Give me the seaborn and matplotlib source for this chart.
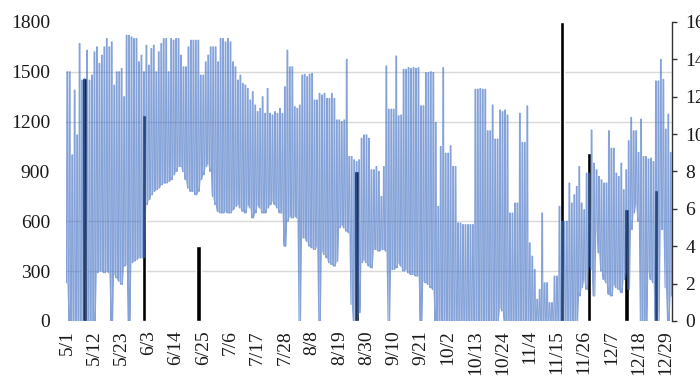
import numpy as np
import pandas as pd
import matplotlib
matplotlib.use("Agg")
import matplotlib.pyplot as plt
from matplotlib.ticker import MultipleLocator
import seaborn as sns

# Daily maximum of the hourly series (left axis), 1 May .. 31 Dec
daily_high = [
    1500, 1500, 1000, 1390, 1120, 1670, 1450, 1460, 1630, 1450,
    1480, 1620, 1650, 1550, 1600, 1650, 1700, 1650, 1680, 1420,
    1500, 1500, 1520, 1350, 1720, 1720, 1710, 1700, 1700, 1560,
    1600, 1500, 1660, 1540, 1640, 1660, 1500, 1620, 1670, 1700,
    1700, 1500, 1700, 1690, 1700, 1700, 1600, 1530, 1530, 1650,
    1690, 1690, 1690, 1690, 1480, 1480, 1560, 1600, 1650, 1650,
    1650, 1560, 1700, 1700, 1680, 1700, 1680, 1560, 1530, 1450,
    1480, 1430, 1420, 1400, 1330, 1380, 1300, 1260, 1280, 1350,
    1250, 1400, 1250, 1240, 1260, 1250, 1280, 1250, 1410, 1630,
    1530, 1530, 1290, 1280, 1300, 1480, 1485, 1470, 1485, 1490,
    1330, 1330, 1370, 1360, 1370, 1340, 1340, 1370, 1340, 1210,
    1210, 1200, 1210, 1575, 990, 990, 970, 960, 970, 1100,
    1120, 1120, 1100, 910, 910, 930, 900, 750, 930, 1535,
    1275, 1275, 1275, 1595, 1235, 1240, 1515, 1515, 1525, 1520,
    1525, 1520, 1525, 1295, 1295, 1495, 1495, 1500, 1495, 1195,
    690, 1050, 1525, 1010, 1010, 1055, 930, 930, 590, 590,
    580, 580, 580, 580, 580, 1395, 1395, 1400, 1395, 1395,
    1145, 1145, 1300, 1095, 1095, 1270, 1260, 1270, 1240, 650,
    650, 710, 710, 1250, 1075, 1075, 1295, 470, 390, 310,
    130, 190, 650, 230, 230, 110, 110, 270, 270, 690,
    600, 600, 600, 830, 710, 760, 810, 930, 710, 670,
    890, 890, 1150, 950, 910, 870, 850, 830, 830, 1145,
    1040, 1040, 890, 870, 950, 790, 910, 1085, 1225, 1145,
    1145, 1015, 1215, 990, 990, 975, 980, 960, 1445, 1445,
    1575, 1455, 1155, 1245, 1015,
]

# Daily minimum of the hourly series (left axis)
daily_low = [
    230, 0, 0, 0, 0, 0, 0, 0, 0, 0,
    0, 0, 290, 300, 300, 290, 300, 290, 0, 280,
    260, 240, 220, 330, 340, 0, 350, 360, 370, 380,
    380, 380, 700, 730, 760, 780, 790, 800, 820, 830,
    830, 840, 850, 880, 900, 930, 930, 900, 850, 800,
    780, 780, 760, 780, 850, 880, 930, 950, 900, 750,
    700, 660, 650, 650, 660, 650, 650, 670, 690, 700,
    680, 660, 650, 700, 680, 620, 650, 700, 680, 650,
    650, 680, 700, 720, 700, 680, 650, 650, 450, 600,
    630, 620, 630, 620, 0, 500, 500, 480, 450, 440,
    430, 450, 0, 420, 400, 380, 350, 340, 330, 360,
    560, 580, 560, 540, 530, 100, 0, 0, 50, 350,
    370, 350, 330, 320, 430, 430, 420, 430, 430, 420,
    0, 310, 310, 320, 350, 330, 300, 310, 290, 280,
    280, 270, 270, 0, 240, 230, 220, 200, 190, 0,
    0, 0, 0, 0, 0, 0, 0, 0, 0, 0,
    0, 0, 0, 0, 0, 0, 0, 0, 0, 0,
    0, 0, 0, 0, 0, 80, 60, 0, 0, 0,
    0, 0, 0, 0, 0, 0, 0, 0, 0, 0,
    0, 0, 0, 0, 0, 0, 0, 0, 0, 0,
    0, 0, 0, 0, 0, 0, 0, 150, 200, 250,
    190, 330, 310, 150, 550, 410, 300, 250, 230, 160,
    150, 220, 200, 190, 170, 250, 290, 190, 550, 650,
    700, 600, 0, 0, 0, 300, 250, 230, 0, 0,
    550, 550, 200, 0, 150,
]

# Rainfall events (right axis): day index from 1 May, amount
rain_day = [7, 31, 53, 117, 200, 211, 226, 238]
rain_amount = [13, 11, 4, 8, 16, 9, 6, 7]

tick_labels = ["5/1", "5/12", "5/23", "6/3", "6/14", "6/25", "7/6", "7/17",
               "7/28", "8/8", "8/19", "8/30", "9/10", "9/21", "10/2", "10/13",
               "10/24", "11/4", "11/15", "11/26", "12/7", "12/18", "12/29"]
tick_step = 11

# Each day rises from its minimum to its maximum and back down again
days = np.arange(len(daily_high))
rows = []
for d, lo, hi in zip(days, daily_low, daily_high):
    for off, v in ((-0.3, lo), (-0.15, hi), (0.15, hi), (0.3, lo)):
        rows.append((d + off, v))
series = pd.DataFrame(rows, columns=["day", "value"])
rain = pd.DataFrame({"day": rain_day, "amount": rain_amount})

sns.set_theme(style="white")
plt.rcParams["font.family"] = ["Liberation Serif", "DejaVu Serif"]
text_color = "#1a1a1a"
label_size = 14

fig = plt.figure(figsize=(7, 3.76), dpi=100)
ax = fig.add_axes([0.0943, 0.1463, 0.8657, 0.7952])
ax2 = ax.twinx()

# rainfall bars underneath, with the horizontal grid
ax2.bar(rain["day"], rain["amount"], width=1.9, color="black", zorder=2)
ax2.set_ylim(0, 16)
ax2.yaxis.set_major_locator(MultipleLocator(2))
ax2.yaxis.set_minor_locator(MultipleLocator(16 / 6))
ax2.set_axisbelow(True)
ax2.grid(False, which="major")
ax2.grid(True, which="minor", axis="y", color="#d9d9d9", lw=1)
ax2.tick_params(axis="y", which="major", direction="out", length=3.6,
                width=1, color="#333333", pad=6, labelsize=label_size,
                labelcolor=text_color)
ax2.tick_params(axis="y", which="minor", length=0)
for side in ("top", "left", "bottom"):
    ax2.spines[side].set_visible(False)
ax2.spines["right"].set_color("#333333")
ax2.spines["right"].set_linewidth(1)

# hourly series on top
ax.set_zorder(ax2.get_zorder() + 1)
ax.patch.set_visible(False)
sns.lineplot(data=series, x="day", y="value", ax=ax, color="#4472C4",
             lw=0.8, alpha=0.65, estimator=None, sort=False)
ax.set_ylim(0, 1800)
ax.set_xlim(-0.5, len(daily_high) - 0.5)
ax.yaxis.set_major_locator(MultipleLocator(300))
ax.set_xticks(np.arange(len(tick_labels)) * tick_step)
ax.set_xticklabels(tick_labels, rotation=90)
ax.tick_params(axis="y", length=0, pad=11.5, labelsize=label_size,
               labelcolor=text_color)
ax.tick_params(axis="x", length=0, pad=6.5, labelsize=label_size,
               labelcolor=text_color)
ax.set_xlabel("")
ax.set_ylabel("")
ax.grid(False)
for side in ax.spines:
    ax.spines[side].set_visible(False)

fig.savefig("out.png", dpi=100, facecolor="white")
